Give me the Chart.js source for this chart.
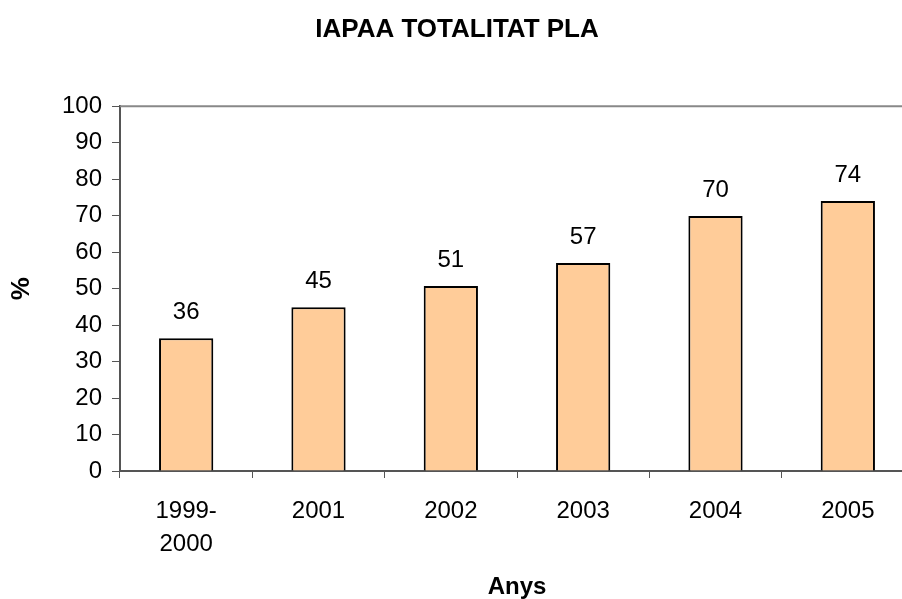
<!DOCTYPE html>
<html>
<head>
<meta charset="utf-8">
<script src="https://cdn.jsdelivr.net/npm/chart.js@4/dist/chart.umd.min.js"></script>
<style>
  html, body { margin: 0; padding: 0; background: #fff; overflow: hidden; }
  #wrap { width: 902px; height: 599px; overflow: hidden; }
</style>
</head>
<body>
<div id="wrap"><canvas id="chart" width="914" height="599"></canvas></div>
<script>
const years = [['1999-', '2000'], '2001', '2002', '2003', '2004', '2005'];
const percentages = [36.4, 44.9, 50.7, 57, 69.9, 74];
const valueLabels = ['36', '45', '51', '57', '70', '74'];
const yTicks = [0, 10, 20, 30, 40, 50, 60, 70, 80, 90, 100];

const FONT = '"Liberation Sans", Arial, sans-serif';

// numbers above each bar
const barLabels = {
  id: 'barLabels',
  afterDatasetsDraw(chart) {
    const ctx = chart.ctx;
    const meta = chart.getDatasetMeta(0);
    ctx.save();
    ctx.font = '24px ' + FONT;
    ctx.fillStyle = '#000';
    ctx.textAlign = 'center';
    ctx.textBaseline = 'alphabetic';
    meta.data.forEach((bar, i) => {
      ctx.fillText(valueLabels[i], bar.x, bar.y - 19);
    });
    ctx.restore();
  }
};

// grey top edge of the plot area
const plotTop = {
  id: 'plotTop',
  beforeDatasetsDraw(chart) {
    const { ctx, chartArea } = chart;
    ctx.save();
    ctx.strokeStyle = '#888';
    ctx.lineWidth = 2;
    ctx.beginPath();
    ctx.moveTo(chartArea.left, chartArea.top);
    ctx.lineTo(chartArea.right + 5, chartArea.top);
    ctx.stroke();
    ctx.restore();
  }
};

new Chart(document.getElementById('chart').getContext('2d'), {
  type: 'bar',
  data: {
    labels: years,
    datasets: [{
      data: percentages,
      backgroundColor: '#FFCC99',
      borderColor: '#000',
      borderWidth: 2,
      barPercentage: 0.41,
      categoryPercentage: 1
    }]
  },
  plugins: [barLabels, plotTop],
  options: {
    responsive: false,
    animation: false,
    layout: { padding: 0 },
    scales: {
      x: {
        afterFit(scale) {
          scale.height = 128;
        },
        grid: {
          display: true,
          drawOnChartArea: false,
          offset: true,
          tickLength: 7,
          color: '#555',
          lineWidth: 1
        },
        border: { color: '#555', width: 2 },
        ticks: {
          color: '#000',
          font: { family: FONT, size: 24, lineHeight: 1.375 },
          padding: 17,
          maxRotation: 0
        },
        title: {
          display: true,
          text: 'Anys',
          color: '#000',
          font: { family: FONT, size: 24, weight: 'bold', lineHeight: 1 },
          padding: { top: 0, bottom: 0 }
        }
      },
      y: {
        min: 0,
        max: 100,
        afterBuildTicks(scale) {
          scale.ticks = yTicks.map(v => ({ value: v }));
        },
        afterFit(scale) {
          scale.width = 120;
        },
        grid: {
          display: true,
          drawOnChartArea: false,
          tickLength: 8,
          color: '#555'
        },
        border: { color: '#555', width: 2 },
        ticks: {
          color: '#000',
          font: { family: FONT, size: 24 },
          padding: 10
        },
        title: {
          display: true,
          text: '%',
          color: '#000',
          font: { family: FONT, size: 26, weight: 'bold' },
          padding: { top: 6, bottom: 0 }
        }
      }
    },
    plugins: {
      legend: { display: false },
      tooltip: { enabled: false },
      title: {
        display: true,
        text: 'IAPAA TOTALITAT PLA',
        color: '#000',
        font: { family: FONT, size: 26, weight: 'bold' },
        padding: { top: 14, bottom: 61 }
      }
    }
  }
});
</script>
</body>
</html>
